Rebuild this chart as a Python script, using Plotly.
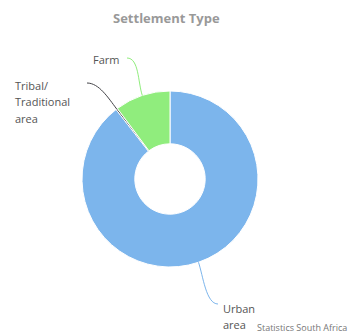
import math
import plotly.graph_objects as go

# Settlement type shares (%)
labels = ["Urban area", "Tribal/Traditional area", "Farm"]
values = [89.5, 0.3, 10.2]
colors = ["#7cb5ec", "#434348", "#90ed7d"]

# label text lines and anchor positions (pixels) for the data labels
label_lines = [["Urban", "area"], ["Tribal/", "Traditional", "area"], ["Farm"]]
label_pos = [(221, 308, "left"), (13, 85, "left"), (91, 59, "left")]
connector_end = [(218, 304), (87, 83), (127, 58)]

W, H = 358, 331
CX, CY, R = 170, 179, 88

fig = go.Figure()
fig.add_trace(go.Pie(
    labels=labels, values=values, sort=False, direction="clockwise", rotation=0,
    hole=0.4, textinfo="none", hoverinfo="label+percent",
    marker=dict(colors=colors, line=dict(color="#ffffff", width=1)),
    domain=dict(x=[(CX - R) / W, (CX + R) / W], y=[(H - CY - R) / H, (H - CY + R) / H]),
    showlegend=False,
))

# pixel-space overlay axes for connectors and labels
fig.add_trace(go.Scatter(x=[0, W], y=[0, H], mode="markers", marker=dict(opacity=0),
                         hoverinfo="skip", showlegend=False))

total = sum(values)
cum = 0.0
shapes = []
annotations = []
for i, v in enumerate(values):
    mid = (cum + v / 2) / total
    cum += v
    ang = 2 * math.pi * mid
    dx, dy = math.sin(ang), -math.cos(ang)
    ex, ey = CX + R * dx, CY + R * dy
    lx, ly = connector_end[i]
    side = 1 if lx > CX else -1
    c1 = (ex + dx * 14, ey + dy * 14)
    c2 = (lx - side * 12, ly)
    shapes.append(dict(
        type="path", xref="x", yref="y",
        path=f"M {ex:.1f},{ey:.1f} C {c1[0]:.1f},{c1[1]:.1f} {c2[0]:.1f},{c2[1]:.1f} {lx:.1f},{ly:.1f}",
        line=dict(color=colors[i], width=1),
    ))
    x0, y0, anchor = label_pos[i]
    for j, t in enumerate(label_lines[i]):
        annotations.append(dict(
            x=x0, y=y0 + j * 16.5, xref="x", yref="y", text=t, showarrow=False,
            xanchor=anchor, yanchor="middle",
            font=dict(family="Open Sans, DejaVu Sans, sans-serif", size=11, color="#555555"),
        ))

annotations.append(dict(
    x=166, y=18, xref="x", yref="y", text="<b>Settlement Type</b>", showarrow=False,
    xanchor="center", yanchor="middle",
    font=dict(family="Open Sans, DejaVu Sans, sans-serif", size=13, color="#999999"),
))
annotations.append(dict(
    x=255, y=327, xref="x", yref="y", text="Statistics South Africa", showarrow=False,
    xanchor="left", yanchor="middle",
    font=dict(family="Open Sans, DejaVu Sans, sans-serif", size=9, color="#777777"),
))

fig.update_layout(
    width=W, height=H, margin=dict(l=0, r=0, t=0, b=0),
    paper_bgcolor="#ffffff", plot_bgcolor="rgba(0,0,0,0)",
    xaxis=dict(range=[0, W], visible=False, fixedrange=True, domain=[0, 1]),
    yaxis=dict(range=[H, 0], visible=False, fixedrange=True, domain=[0, 1]),
    shapes=shapes, annotations=annotations,
)

fig.write_html("out.html", config={"displayModeBar": False})
